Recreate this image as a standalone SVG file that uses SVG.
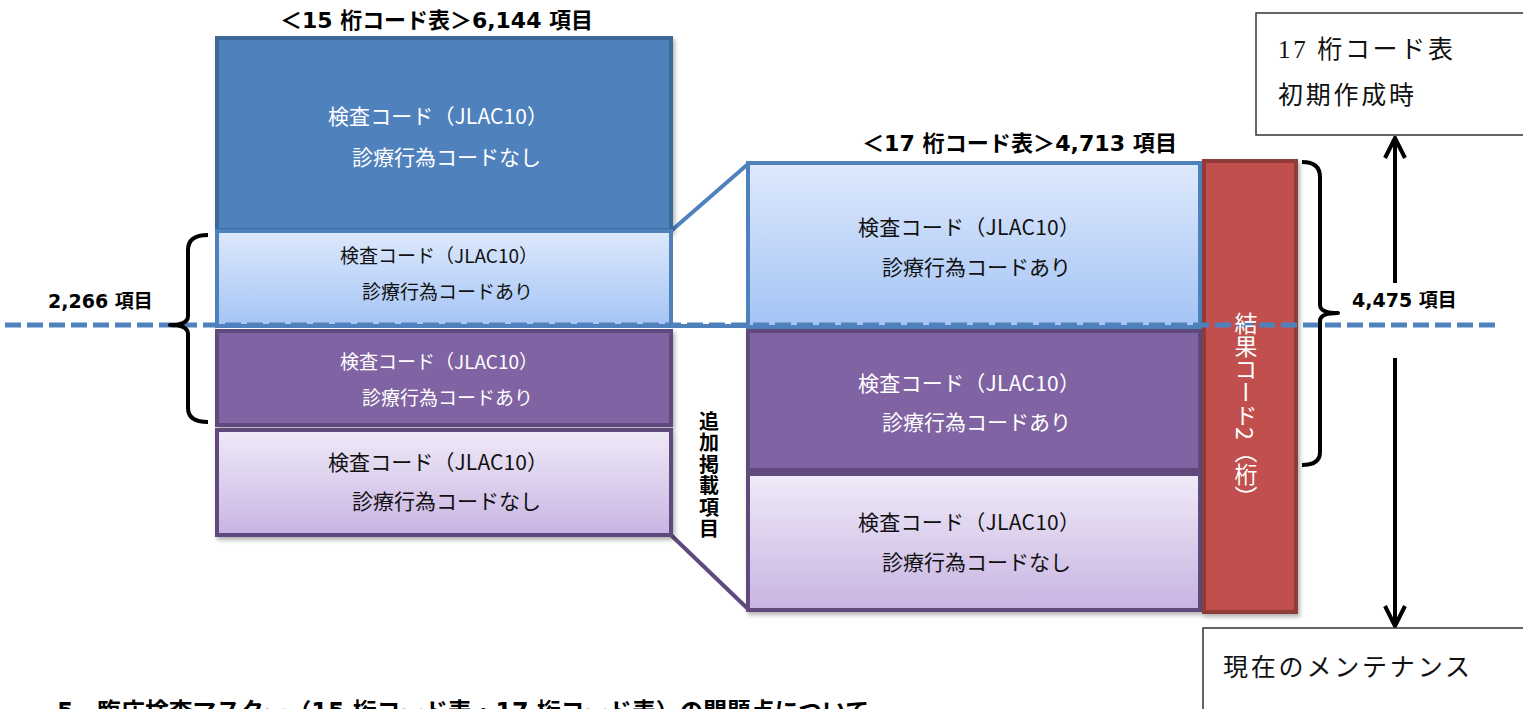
<svg xmlns="http://www.w3.org/2000/svg" width="1523" height="709" viewBox="0 0 1523 709">
<style>
.jp{font-family:"Noto Sans CJK JP",sans-serif;}
.b{font-family:"DejaVu Sans","Noto Sans CJK JP",sans-serif;font-weight:bold;fill:#000;}
.bj{font-family:"Noto Sans CJK JP",sans-serif;font-weight:bold;fill:#000;}
.t1{font-size:21px;}
.t2{font-size:19px;}
.w{fill:#fff;}
.k{fill:#111;}
.box{fill:#fff;stroke:#333;stroke-width:1.5;}
.serif{font-family:"Liberation Serif","Noto Sans CJK JP",serif;font-size:25px;fill:#111;}
.br{fill:none;stroke:#000;stroke-width:4;stroke-linejoin:round;}
.arr{fill:none;stroke:#000;stroke-width:4;}
</style>
<defs>
<linearGradient id="gBlue" x1="0" y1="0" x2="0" y2="1">
<stop offset="0" stop-color="#DEE9FC"/><stop offset="1" stop-color="#A4C4F5"/>
</linearGradient>
<linearGradient id="gLav" x1="0" y1="0" x2="0" y2="1">
<stop offset="0" stop-color="#F0EAF8"/><stop offset="1" stop-color="#C8B4E2"/>
</linearGradient>
<filter id="sh" x="-5%" y="-5%" width="115%" height="120%">
<feDropShadow dx="2" dy="3" stdDeviation="2" flood-color="#000" flood-opacity="0.3"/>
</filter>
<marker id="chev" viewBox="0 0 12 12" refX="11" refY="6" markerUnits="userSpaceOnUse" markerWidth="24" markerHeight="24" orient="auto">
<path d="M1,1 L11,6 L1,11" fill="none" stroke="#000" stroke-width="2"/>
</marker>
</defs>
<rect width="1523" height="709" fill="#fff"/>

<g id="title15">
<text class="b" x="280" y="28" font-size="22" textLength="313" lengthAdjust="spacingAndGlyphs">＜15 桁コード表＞6,144 項目</text>
</g>
<g id="title17">
<text class="b" x="862" y="151" font-size="22" textLength="315" lengthAdjust="spacingAndGlyphs">＜17 桁コード表＞4,713 項目</text>
</g>

<g id="connectors">
<line x1="671" y1="231" x2="748" y2="164" stroke="#4F81BD" stroke-width="4"/>
<line x1="671" y1="326" x2="748" y2="326" stroke="#4F81BD" stroke-width="4"/>
<line x1="671" y1="535" x2="748" y2="609" stroke="#5E4A7D" stroke-width="4"/>
<path class="arr" d="M1395,283 L1395,138" marker-end="url(#chev)"/>
<path class="arr" d="M1395,358 L1395,626" marker-end="url(#chev)"/>
</g>

<g id="L1">
<rect x="217" y="38" width="454" height="192" fill="#4F81BD" stroke="#3C679A" stroke-width="4" filter="url(#sh)"/>
<text class="jp t1 w" x="328" y="124" textLength="220" lengthAdjust="spacing">検査コード（JLAC10）</text>
<text class="jp t1 w" x="352" y="165">診療行為コードなし</text>
</g>
<g id="L2">
<rect x="217" y="231" width="454" height="95" fill="url(#gBlue)" stroke="#4F81BD" stroke-width="4"/>
<text class="jp t2 k" x="340" y="263" textLength="198" lengthAdjust="spacing">検査コード（JLAC10）</text>
<text class="jp t2 k" x="362" y="299">診療行為コードあり</text>
</g>
<g id="L3">
<rect x="217" y="331" width="454" height="94" fill="#8064A2" stroke="#5E4A7D" stroke-width="4" filter="url(#sh)"/>
<text class="jp t2 w" x="340" y="369" textLength="198" lengthAdjust="spacing">検査コード（JLAC10）</text>
<text class="jp t2 w" x="362" y="405">診療行為コードあり</text>
</g>
<g id="L4">
<rect x="217" y="430" width="454" height="105" fill="url(#gLav)" stroke="#5E4A7D" stroke-width="4" filter="url(#sh)"/>
<text class="jp t1 k" x="328" y="470" textLength="220" lengthAdjust="spacing">検査コード（JLAC10）</text>
<text class="jp t1 k" x="352" y="509">診療行為コードなし</text>
</g>

<g id="R1">
<rect x="748" y="163" width="452" height="164" fill="url(#gBlue)" stroke="#4F81BD" stroke-width="4"/>
<text class="jp t1 k" x="858" y="235" textLength="222" lengthAdjust="spacing">検査コード（JLAC10）</text>
<text class="jp t1 k" x="882" y="275">診療行為コードあり</text>
</g>
<g id="R2">
<rect x="748" y="331" width="452" height="139" fill="#8064A2" stroke="#5E4A7D" stroke-width="4" filter="url(#sh)"/>
<text class="jp t1 w" x="858" y="391" textLength="222" lengthAdjust="spacing">検査コード（JLAC10）</text>
<text class="jp t1 w" x="882" y="430">診療行為コードあり</text>
</g>
<g id="R3">
<rect x="748" y="474" width="452" height="136" fill="url(#gLav)" stroke="#5E4A7D" stroke-width="4" filter="url(#sh)"/>
<text class="jp t1 k" x="858" y="530" textLength="222" lengthAdjust="spacing">検査コード（JLAC10）</text>
<text class="jp t1 k" x="882" y="570">診療行為コードなし</text>
</g>

<g id="resultBar">
<rect x="1204" y="161" width="92" height="451" fill="#C0504D" stroke="#8F3A38" stroke-width="4" filter="url(#sh)"/>
</g>

<g id="divider">
<line x1="5" y1="325" x2="1495" y2="325" stroke="#4F81BD" stroke-width="5" stroke-dasharray="16 6"/>
</g>

<g id="resultBarLabel">
<text class="jp w" x="1246" y="312" font-size="23" style="writing-mode:vertical-rl">結果コード2（桁）</text>
</g>

<g id="addedLabel">
<text class="bj" x="709" y="411" font-size="20" letter-spacing="1.5" style="writing-mode:vertical-rl">追加掲載項目</text>
</g>

<g id="braceLeft">
<path class="br" d="M208,235 Q188,235 188,250 L188,316 Q188,325 170,325 Q188,325 188,334 L188,408 Q188,422 208,422"/>
<text class="b" x="48" y="308" font-size="19">2,266 項目</text>
</g>
<g id="braceRight">
<path class="br" d="M1302,162 Q1320,162 1320,177 L1320,305 Q1320,313 1338,313 Q1320,313 1320,321 L1320,452 Q1320,465 1302,465"/>
<text class="b" x="1352" y="307" font-size="19">4,475 項目</text>
</g>

<g id="boxInitial">
<rect class="box" x="1256" y="13" width="280" height="122"/>
<text class="serif" x="1278" y="58" textLength="175" lengthAdjust="spacing">17 桁コード表</text>
<text class="serif" x="1278" y="104" font-size="26" textLength="136" lengthAdjust="spacing">初期作成時</text>
</g>
<g id="boxCurrent">
<rect class="box" x="1203" y="628" width="330" height="100"/>
<text class="serif" x="1223" y="676" font-size="26" textLength="247" lengthAdjust="spacing">現在のメンテナンス</text>
</g>

<g id="sectionHeading">
<text class="b" x="57" y="720" font-size="24" textLength="812" lengthAdjust="spacingAndGlyphs">5．臨床検査マスター（15 桁コード表・17 桁コード表）の問題点について</text>
</g>
</svg>
